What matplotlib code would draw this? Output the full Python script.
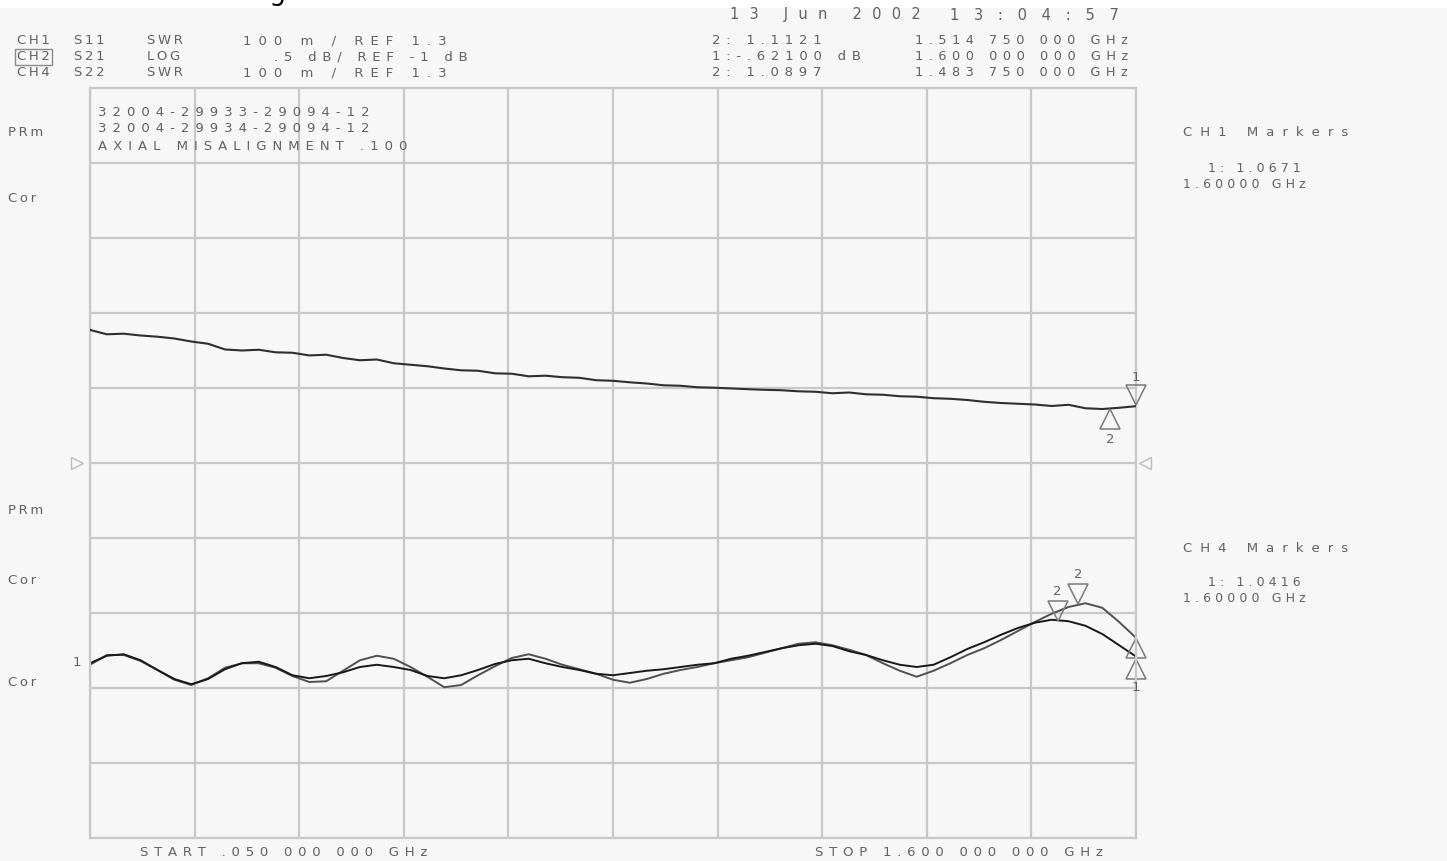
import numpy as np
import matplotlib
matplotlib.use("Agg")
import matplotlib.pyplot as plt
from matplotlib.patches import Rectangle
from matplotlib.transforms import offset_copy

# sweep: 63 points, .050 to 1.600 GHz
freq = np.linspace(0.05, 1.6, 63)

# CH2 S21 (dB), upper trace
s21_db = [-0.113, -0.142, -0.138, -0.150, -0.158, -0.170, -0.190, -0.205, -0.243, -0.250,
          -0.245, -0.262, -0.265, -0.283, -0.278, -0.300, -0.315, -0.310, -0.335, -0.345,
          -0.355, -0.370, -0.382, -0.385, -0.402, -0.405, -0.422, -0.418, -0.428, -0.432,
          -0.448, -0.452, -0.462, -0.470, -0.482, -0.485, -0.495, -0.498, -0.503, -0.508,
          -0.512, -0.515, -0.522, -0.525, -0.535, -0.530, -0.542, -0.545, -0.555, -0.558,
          -0.568, -0.572, -0.580, -0.592, -0.600, -0.605, -0.610, -0.620, -0.612, -0.635,
          -0.640, -0.632, -0.621]

# CH1 S11 SWR
s11_swr = [1.031, 1.044, 1.044, 1.036, 1.024, 1.011, 1.004, 1.013, 1.027, 1.033,
           1.033, 1.027, 1.016, 1.008, 1.009, 1.023, 1.037, 1.043, 1.039, 1.028,
           1.015, 1.001, 1.004, 1.017, 1.029, 1.040, 1.045, 1.039, 1.031, 1.025,
           1.019, 1.011, 1.007, 1.012, 1.019, 1.024, 1.028, 1.033, 1.037, 1.041,
           1.047, 1.053, 1.059, 1.061, 1.057, 1.051, 1.044, 1.033, 1.023, 1.015,
           1.023, 1.033, 1.044, 1.053, 1.064, 1.076, 1.088, 1.099, 1.108, 1.113,
           1.107, 1.088, 1.067]

# CH4 S22 SWR
s22_swr = [1.033, 1.043, 1.045, 1.037, 1.024, 1.012, 1.005, 1.012, 1.025, 1.033,
           1.035, 1.028, 1.017, 1.013, 1.016, 1.021, 1.028, 1.031, 1.028, 1.024,
           1.016, 1.013, 1.017, 1.024, 1.032, 1.037, 1.039, 1.033, 1.028, 1.024,
           1.019, 1.017, 1.020, 1.023, 1.025, 1.028, 1.031, 1.033, 1.039, 1.043,
           1.048, 1.053, 1.057, 1.059, 1.056, 1.049, 1.044, 1.037, 1.031, 1.028,
           1.031, 1.041, 1.052, 1.061, 1.071, 1.080, 1.087, 1.091, 1.089, 1.083,
           1.072, 1.057, 1.042]

# markers: (freq GHz, value)
ch1_m2 = (1.51475, 1.1121)
ch1_m1 = (1.6, 1.0671)
ch4_m2 = (1.48375, 1.0897)
ch4_m1 = (1.6, 1.0416)
ch2_m1 = (1.6, -0.621)
ch2_m2 = (1.5615, -0.636)

W, H = 1447, 861
TXT = "#626262"
GRID = "#c8c8c8"
MK = "#7a7a7a"
SP = "\u2004\u200a"   # letter spacing of the analyser font
SP_W = "\u2005\u2009"
SP_WW = "\u2004\u2009"

fig = plt.figure(figsize=(W / 100, H / 100), dpi=100, facecolor="#f7f7f7")
fig.patches.append(Rectangle((0, 1 - 8 / H), 1, 8 / H, transform=fig.transFigure,
                             facecolor="white", edgecolor="none", zorder=0))
# cut-off line of text above the screen capture
fig.text(13 / W, 1.0, "as shown in the diagram", fontsize=19, color="black",
         va="baseline", ha="left")

ax = fig.add_axes([90 / W, (H - 838) / H, 1046 / W, 750 / H])
ax.set_facecolor("#f7f7f7")
ax.set_xlim(0.05, 1.6)
ax.set_ylim(0.8, 1.8)  # 100 m/div, REF 1.3 at centre
ax.set_xticks(np.linspace(0.05, 1.6, 11))
ax.set_yticks(np.linspace(0.8, 1.8, 11))
ax.tick_params(length=0, labelbottom=False, labelleft=False)
ax.grid(True, color=GRID, lw=1.6)
for sp in ax.spines.values():
    sp.set_color(GRID)
    sp.set_linewidth(1.6)

ax2 = ax.twinx()
ax2.set_ylim(-3.5, 1.5)  # .5 dB/div, REF -1 dB at centre
ax2.set_axis_off()

ax.plot(freq, s11_swr, color="#505050", lw=1.4)
ax.plot(freq, s22_swr, color="#181818", lw=1.4)
ax2.plot(freq, s21_db, color="#2e2e2e", lw=1.5)


def marker(a, pt, kind, dy, label=None, ly=0):
    tr = offset_copy(a.transData, fig=fig, x=0, y=dy, units="dots")
    a.plot([pt[0]], [pt[1]], marker=kind, ms=15, mfc="none", mec=MK, mew=1.1,
           ls="none", transform=tr, clip_on=False)
    if label:
        trl = offset_copy(a.transData, fig=fig, x=0, y=ly, units="dots")
        a.text(pt[0], pt[1], label, transform=trl, ha="center", va="center",
               fontsize=9.5, color=TXT, clip_on=False)


marker(ax2, ch2_m1, "v", 11, "1", 29)
marker(ax2, ch2_m2, "^", -11, "2", -31)
marker(ax, ch1_m2, "v", 10, "2", 29)
marker(ax, ch4_m2, "v", 10, "2", 29)
marker(ax, ch1_m1, "^", -10)
marker(ax, ch4_m1, "^", -12, "1", -31)

# reference position triangles
for f, k, dx in [(0.05, ">", -13), (1.6, "<", 9)]:
    tr = offset_copy(ax.transData, fig=fig, x=dx, y=0, units="dots")
    ax.plot([f], [1.3], marker=k, ms=8, mfc="none", mec="#bdbdbd", mew=1,
            ls="none", transform=tr, clip_on=False)


def put(x, y, s, size=9.5, gap=SP, **kw):
    return fig.text(x / W, 1 - y / H, gap.join(s), fontsize=size, color=TXT,
                    va="center", ha="left", **kw)


# header
put(730, 15, "13 Jun 2002", size=10.5, gap="\u2002\u2009")
put(950, 15, "13:04:57", size=10.5, gap="\u2002\u2002")

rows = [("CH1", "S11", "SWR", "100 m / REF 1.3", "2: 1.1121", "1.514 750 000 GHz"),
        ("CH2", "S21", "LOG", ".5 dB/ REF -1 dB", "1:-.62100 dB", "1.600 000 000 GHz"),
        ("CH4", "S22", "SWR", "100 m / REF 1.3", "2: 1.0897", "1.483 750 000 GHz")]
for i, (ch, par, fmt, scale, mval, mfreq) in enumerate(rows):
    y = 41 + 16 * i
    t = put(17, y, ch, gap="\u2009")
    if ch == "CH2":
        t.set_bbox(dict(boxstyle="square,pad=0.15", facecolor="none", edgecolor="#8a8a8a", lw=1))
    put(74, y, par, gap="\u2009")
    put(147, y, fmt, gap="\u2009")
    if scale[0] == ".":
        put(274, y, scale, gap=SP)
    else:
        put(243, y, scale, gap=SP_WW)
    put(712, y, mval)
    put(915, y, mfreq, size=9.3)

# title block inside graticule
put(98, 113, "32004-29933-29094-12", gap=SP_W)
put(98, 129, "32004-29934-29094-12", gap=SP_W)
put(98, 146, "AXIAL MISALIGNMENT .100", gap=SP_W)

# left annotations
for y, s in [(133, "PRm"), (199, "Cor"), (510, "PRm"), (580, "Cor"), (683, "Cor")]:
    put(8, y, s, gap="\u2009")
put(73, 662, "1")

# marker tables
put(1183, 132, "CH1 Markers", gap="\u2002\u200a")
put(1208, 168, "1: 1.0671", size=9, gap="\u2004")
put(1183, 185, "1.60000 GHz", size=9, gap="\u2004")
put(1183, 548, "CH4 Markers", gap="\u2002\u200a")
put(1208, 582, "1: 1.0416", size=9, gap="\u2004")
put(1183, 598, "1.60000 GHz", size=9, gap="\u2004")

# sweep limits
put(140, 853, "START .050 000 000 GHz")
put(815, 853, "STOP 1.600 000 000 GHz")

fig.savefig("out.png", dpi=100, facecolor=fig.get_facecolor())
